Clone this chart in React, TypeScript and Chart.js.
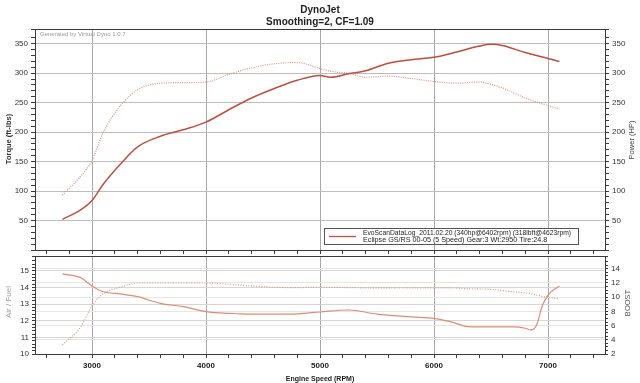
import React, { useEffect, useRef } from "react";
import { Chart, registerables } from "chart.js";

Chart.register(...registerables);

// ---------- data ----------
const rpmTop = [2740, 2900, 3000, 3100, 3250, 3400, 3600, 3800, 4000, 4200, 4400, 4600, 4800, 5000, 5100, 5250, 5400, 5600, 5800, 6000, 6200, 6400, 6500, 6600, 6800, 7000, 7100];
const powerHp = [52, 68, 84, 112, 146, 175, 193, 204, 217, 238, 258, 274, 288, 296, 293, 299, 304, 317, 323, 327, 336, 346, 349, 347, 335, 325, 320];
const torqueFtLb = [93, 125, 152, 200, 245, 272, 283, 284, 285, 298, 309, 316, 318, 308, 303, 300, 293, 295, 291, 286, 283, 285, 281, 275, 258, 245, 239];

const rpmBottom = [2740, 2900, 3000, 3100, 3250, 3400, 3600, 3800, 4000, 4300, 4600, 4800, 5000, 5250, 5500, 5800, 6000, 6150, 6300, 6500, 6700, 6800, 6850, 6900, 6950, 7000, 7100];
const airFuel = [14.82, 14.6, 14.1, 13.75, 13.62, 13.45, 13.05, 12.85, 12.55, 12.42, 12.4, 12.42, 12.53, 12.65, 12.4, 12.23, 12.15, 11.93, 11.65, 11.63, 11.63, 11.55, 11.45, 11.75, 12.9, 13.55, 14.1];
const boostPsi = [3.3, 5.8, 8.8, 10.5, 11.4, 12.0, 12.0, 12.0, 12.0, 11.7, 11.4, 11.35, 11.4, 11.35, 11.3, 11.3, 11.3, 11.3, 11.2, 11.1, 10.75, 10.6, 10.5, 10.3, 10.1, 10.0, 9.75];

const xTickLabels = [3000, 4000, 5000, 6000, 7000];
const hpTickLabels = [50, 100, 150, 200, 250, 300, 350];
const afTickLabels = [10, 11, 12, 13, 14, 15];
const boostTickLabels = [2, 4, 6, 8, 10, 12, 14];

const titleText = "DynoJet";
const subtitleText = "Smoothing=2, CF=1.09";
const legendLine1 = "EvoScanDataLog_2011.02.20 (340hp@6402rpm) (318lbft@4623rpm)";
const legendLine2 = "Eclipse GS/RS 00-05 (5 Speed) Gear:3 Wt:2950 Tire:24.8";
const watermark = "Generated by Virtual Dyno 1.0.7";

// ---------- styles ----------
const FONT = "Arial, 'Liberation Sans', sans-serif";
const POWER_COLOR = "rgb(190,78,62)";
const TORQUE_COLOR = "rgb(216,145,133)";
const AF_COLOR = "rgb(222,140,118)";
const BOOST_COLOR = "rgb(226,150,130)";
const AXIS_COLOR = "#3a3a3a";
const LEFT_W = 35;
const RIGHT_W = 35;

const near = (v: number, list: number[]) => list.some((l) => Math.abs(l - v) < 1e-6);

const fitV = (w: number) => (scale: any) => {
  scale.width = w;
  scale.paddingTop = 0;
  scale.paddingBottom = 0;
};
const fitH = (h: number) => (scale: any) => {
  scale.height = h;
  scale.paddingLeft = 0;
  scale.paddingRight = 0;
};

function drawVText(ctx: CanvasRenderingContext2D, text: string, x: number, y: number, font: string, color: string) {
  ctx.save();
  ctx.translate(x, y);
  ctx.rotate(-Math.PI / 2);
  ctx.font = font;
  ctx.fillStyle = color;
  ctx.textAlign = "center";
  ctx.textBaseline = "middle";
  ctx.fillText(text, 0, 0);
  ctx.restore();
}

function fitText(ctx: CanvasRenderingContext2D, text: string, x: number, y: number, maxW: number) {
  const w = ctx.measureText(text).width;
  if (w > maxW) {
    ctx.save();
    ctx.translate(x, y);
    ctx.scale(maxW / w, 1);
    ctx.fillText(text, 0, 0);
    ctx.restore();
  } else {
    ctx.fillText(text, x, y);
  }
}

const topOverlay = {
  id: "topOverlay",
  afterDraw(chart: any) {
    const { ctx, chartArea } = chart;
    ctx.save();
    ctx.strokeStyle = AXIS_COLOR;
    ctx.lineWidth = 1;
    ctx.strokeRect(Math.round(chartArea.left) + 0.5, Math.round(chartArea.top) + 0.5, Math.round(chartArea.right - chartArea.left), Math.round(chartArea.bottom - chartArea.top));
    // watermark
    ctx.font = `6px ${FONT}`;
    ctx.fillStyle = "#9a9a9a";
    ctx.textBaseline = "middle";
    ctx.textAlign = "left";
    ctx.fillText(watermark, chartArea.left + 5, chartArea.top + 5);
    // legend box
    ctx.fillStyle = "#ffffff";
    ctx.fillRect(324.5, 228.5, 254, 16);
    ctx.strokeStyle = "#555";
    ctx.strokeRect(324.5, 228.5, 254, 16);
    ctx.strokeStyle = POWER_COLOR;
    ctx.lineWidth = 1.3;
    ctx.beginPath();
    ctx.moveTo(329, 236.5);
    ctx.lineTo(356, 236.5);
    ctx.stroke();
    ctx.fillStyle = "#222";
    ctx.font = `7.2px ${FONT}`;
    fitText(ctx, legendLine1, 363, 233, 208);
    fitText(ctx, legendLine2, 363, 240.5, 208);
    // axis titles
    drawVText(ctx, "Torque (ft-lbs)", 9, 139, `bold 7.5px ${FONT}`, "#333");
    drawVText(ctx, "Power (HP)", 632, 140, `7.5px ${FONT}`, "#444");
    ctx.restore();
  },
};

const bottomOverlay = {
  id: "bottomOverlay",
  afterDraw(chart: any) {
    const { ctx, chartArea } = chart;
    ctx.save();
    ctx.strokeStyle = AXIS_COLOR;
    ctx.lineWidth = 1;
    ctx.strokeRect(Math.round(chartArea.left) + 0.5, Math.round(chartArea.top) + 0.5, Math.round(chartArea.right - chartArea.left), Math.round(chartArea.bottom - chartArea.top));
    drawVText(ctx, "Air / Fuel", 9, 48, `8px ${FONT}`, "#a0a0a0");
    drawVText(ctx, "BOOST", 628, 49, `7.5px ${FONT}`, "#555");
    ctx.restore();
  },
};

export default function App() {
  const topRef = useRef<HTMLCanvasElement>(null);
  const botRef = useRef<HTMLCanvasElement>(null);

  useEffect(() => {
    const xMajorColor = (ctx: any) => (ctx.tick && Math.round(ctx.tick.value) % 1000 === 0 ? "#a8a8a8" : "transparent");
    const xTickMark = (ctx: any) => (ctx.tick && Math.round(ctx.tick.value) % 200 === 0 ? AXIS_COLOR : "transparent");

    const topChart = new Chart(topRef.current as HTMLCanvasElement, {
      type: "line",
      data: {
        datasets: [
          {
            label: "Power (HP)",
            data: rpmTop.map((r, i) => ({ x: r, y: powerHp[i] })),
            borderColor: POWER_COLOR,
            borderWidth: 1.5,
            pointRadius: 0,
            tension: 0.4,
            cubicInterpolationMode: "monotone",
            yAxisID: "yL",
          },
          {
            label: "Torque (ft-lbs)",
            data: rpmTop.map((r, i) => ({ x: r, y: torqueFtLb[i] })),
            borderColor: TORQUE_COLOR,
            borderWidth: 1.2,
            borderDash: [1, 1.3],
            pointRadius: 0,
            tension: 0.4,
            cubicInterpolationMode: "monotone",
            yAxisID: "yL",
          },
        ],
      },
      options: {
        responsive: false,
        animation: false,
        devicePixelRatio: 1,
        layout: { padding: 0 },
        plugins: {
          legend: { display: false },
          tooltip: { enabled: false },
          title: {
            display: true,
            text: titleText,
            font: { family: FONT, size: 10, weight: "bold" },
            color: "#222",
            padding: { top: 4, bottom: 0 },
          },
          subtitle: {
            display: true,
            text: subtitleText,
            font: { family: FONT, size: 10, weight: "bold" },
            color: "#222",
            padding: { top: 0, bottom: 1 },
          },
        },
        scales: {
          x: {
            type: "linear",
            position: "bottom",
            min: 2500,
            max: 7500,
            ticks: { stepSize: 100, display: false, autoSkip: false },
            grid: { color: xMajorColor, tickColor: xTickMark, tickLength: 4 },
            border: { color: AXIS_COLOR },
            afterFit: fitH(4),
          },
          yL: {
            type: "linear",
            position: "left",
            min: 0,
            max: 375,
            ticks: {
              stepSize: 10,
              autoSkip: false,
              padding: 3,
              color: "#333",
              font: { family: FONT, size: 8 },
              callback: (v: any) => (near(Number(v), hpTickLabels) ? String(v) : ""),
            },
            grid: {
              color: (ctx: any) => (ctx.tick && ctx.tick.value % 50 === 0 ? "#bdbdbd" : "transparent"),
              tickColor: AXIS_COLOR,
              tickLength: 4,
            },
            border: { color: AXIS_COLOR },
            afterFit: fitV(LEFT_W),
          },
          yR: {
            type: "linear",
            position: "right",
            min: 0,
            max: 375,
            ticks: {
              stepSize: 10,
              autoSkip: false,
              padding: 3,
              color: "#333",
              font: { family: FONT, size: 8 },
              callback: (v: any) => (near(Number(v), hpTickLabels) ? String(v) : ""),
            },
            grid: { drawOnChartArea: false, tickColor: AXIS_COLOR, tickLength: 4 },
            border: { color: AXIS_COLOR },
            afterFit: fitV(RIGHT_W),
          },
        },
      } as any,
      plugins: [topOverlay],
    });

    const botChart = new Chart(botRef.current as HTMLCanvasElement, {
      type: "line",
      data: {
        datasets: [
          {
            label: "Air / Fuel",
            data: rpmBottom.map((r, i) => ({ x: r, y: airFuel[i] })),
            borderColor: AF_COLOR,
            borderWidth: 1.2,
            pointRadius: 0,
            tension: 0.4,
            cubicInterpolationMode: "monotone",
            yAxisID: "yAF",
          },
          {
            label: "BOOST",
            data: rpmBottom.map((r, i) => ({ x: r, y: boostPsi[i] })),
            borderColor: BOOST_COLOR,
            borderWidth: 1.2,
            borderDash: [1, 1.6],
            pointRadius: 0,
            tension: 0.4,
            cubicInterpolationMode: "monotone",
            yAxisID: "yB",
          },
        ],
      },
      options: {
        responsive: false,
        animation: false,
        devicePixelRatio: 1,
        layout: { padding: { top: 2, left: 0, right: 0, bottom: 0 } },
        plugins: { legend: { display: false }, tooltip: { enabled: false } },
        scales: {
          x: {
            type: "linear",
            position: "bottom",
            min: 2500,
            max: 7500,
            ticks: {
              stepSize: 100,
              autoSkip: false,
              maxRotation: 0,
              padding: 3,
              color: "#222",
              font: { family: FONT, size: 8, weight: "bold" },
              callback: (v: any) => (near(Number(v), xTickLabels) ? String(v) : ""),
            },
            grid: { color: xMajorColor, tickColor: xTickMark, tickLength: 4 },
            border: { color: AXIS_COLOR },
            title: {
              display: true,
              text: "Engine Speed (RPM)",
              color: "#222",
              font: { family: FONT, size: 7, weight: "bold" },
              padding: { top: 3, bottom: 0 },
            },
            afterFit: fitH(29),
          },
          yAF: {
            type: "linear",
            position: "left",
            min: 10,
            max: 15.9,
            ticks: {
              stepSize: 0.2,
              autoSkip: false,
              padding: 3,
              color: "#333",
              font: { family: FONT, size: 8 },
              callback: (v: any) => (near(Number(v), afTickLabels) ? String(Math.round(Number(v))) : ""),
            },
            grid: {
              color: (ctx: any) => (ctx.tick && near(ctx.tick.value, afTickLabels) ? "#d6d6d6" : "transparent"),
              tickColor: AXIS_COLOR,
              tickLength: 3,
            },
            border: { color: AXIS_COLOR },
            afterFit: fitV(LEFT_W),
          },
          yB: {
            type: "linear",
            position: "right",
            min: 2,
            max: 15.8,
            ticks: {
              stepSize: 0.5,
              autoSkip: false,
              padding: 3,
              color: "#333",
              font: { family: FONT, size: 8 },
              callback: (v: any) => (near(Number(v), boostTickLabels) ? String(Math.round(Number(v))) : ""),
            },
            grid: {
              color: (ctx: any) => (ctx.tick && near(ctx.tick.value, boostTickLabels) ? "#e6e6e6" : "transparent"),
              tickColor: AXIS_COLOR,
              tickLength: 3,
            },
            border: { color: AXIS_COLOR },
            afterFit: fitV(RIGHT_W),
          },
        },
      } as any,
      plugins: [bottomOverlay],
    });

    return () => {
      topChart.destroy();
      botChart.destroy();
    };
  }, []);

  return (
    <div style={{ position: "absolute", left: 0, top: 0, width: 640, height: 383, background: "#fff", overflow: "hidden" }}>
      <canvas ref={topRef} width={640} height={254} style={{ position: "absolute", left: 0, top: 0 }} />
      <canvas ref={botRef} width={640} height={129} style={{ position: "absolute", left: 0, top: 254 }} />
    </div>
  );
}
